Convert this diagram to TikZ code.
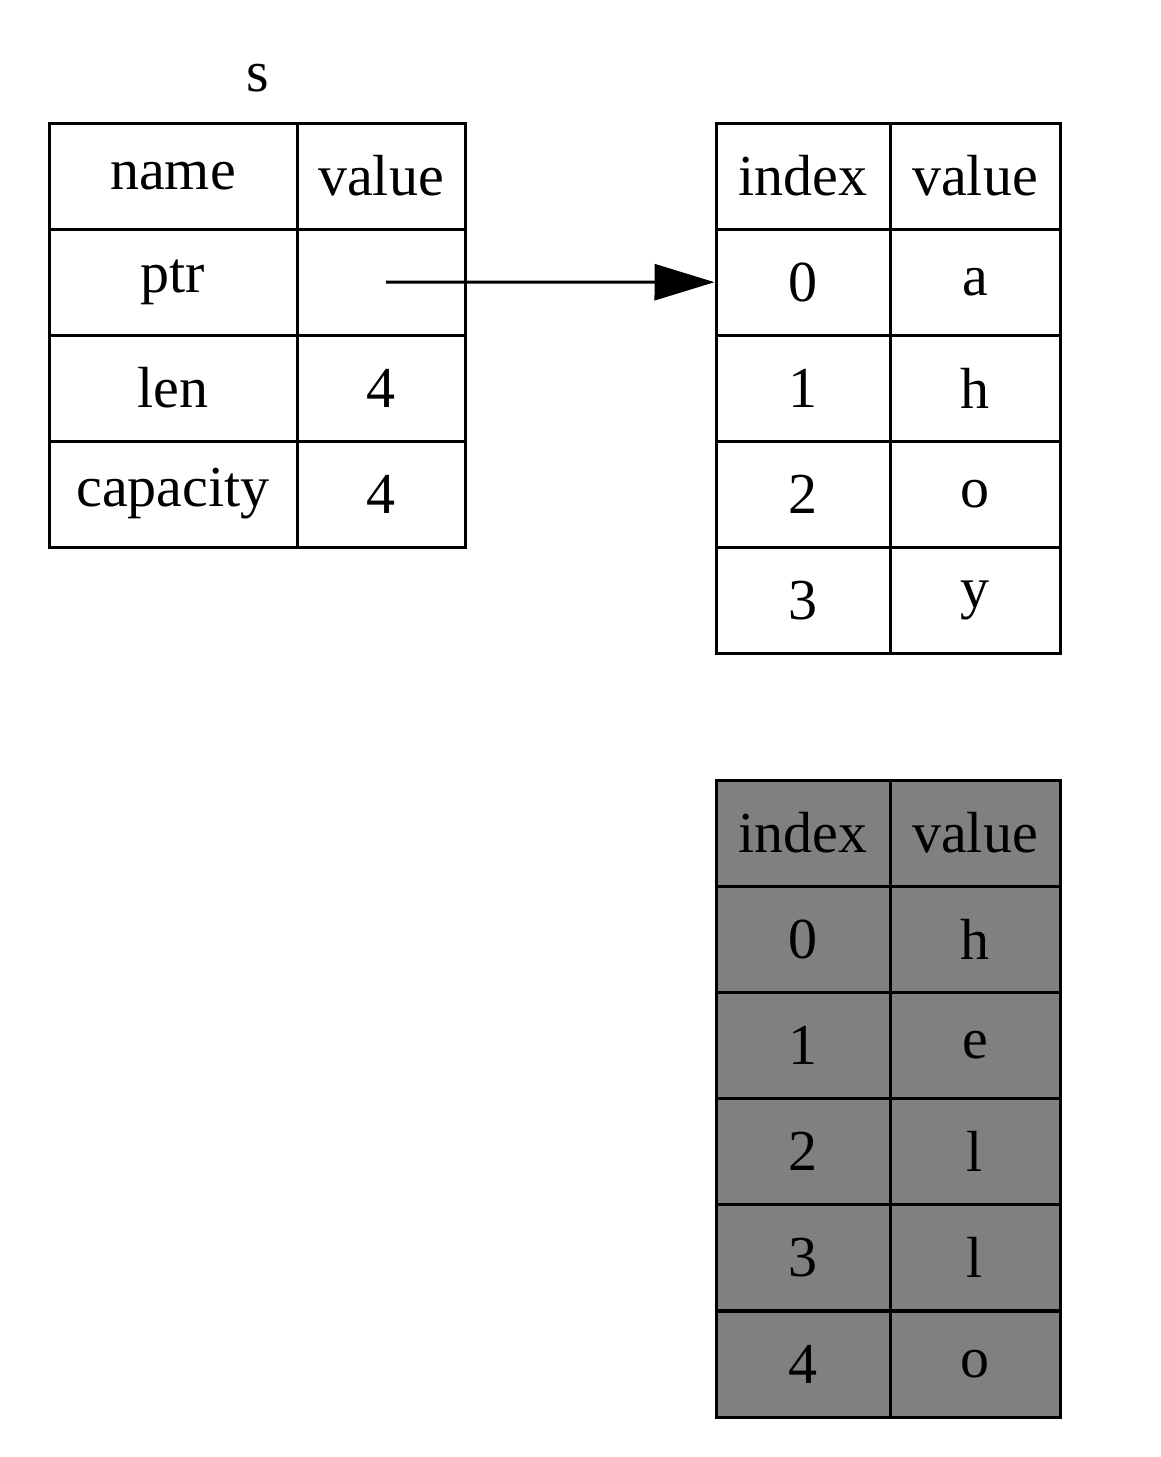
\documentclass[tikz,border=0pt]{standalone}
\usepackage{fontspec}
\setmainfont{Liberation Serif}
\usetikzlibrary{arrows.meta}
\begin{document}
\begin{tikzpicture}[x=1pt,y=-1pt,
  cell/.style={draw=black,line width=3pt,inner sep=0pt,font=\fontsize{58}{58}\selectfont,anchor=center},
  grey/.style={cell,fill={rgb,255:red,128;green,128;blue,128}}]
\useasboundingbox (0,0) rectangle (1161,1457);
\node[font=\fontsize{58}{58}\selectfont] (s) at (258,78) {s};
% table s
\def\rowsS{{"name","value"},{"ptr",""},{"len","4"},{"capacity","4"}}
\foreach \a/\b [count=\i from 0] in {name/value,ptr/{},len/4,capacity/4}{
  \pgfmathsetmacro\yc{176+106*\i}
  \node[cell,minimum width=248pt,minimum height=106pt] (sa\i) at (173,\yc) {\a};
  \node[cell,minimum width=168pt,minimum height=106pt] (sb\i) at (381,\yc) {\b};
}
% table heap
\foreach \a/\b [count=\i from 0] in {index/value,0/a,1/h,2/o,3/y}{
  \pgfmathsetmacro\yc{176+106.2*\i}
  \node[cell,minimum width=174pt,minimum height=106pt] (ha\i) at (803,\yc) {\a};
  \node[cell,minimum width=170pt,minimum height=106pt] (hb\i) at (975,\yc) {\b};
}
% grey table
\foreach \a/\b [count=\i from 0] in {index/value,0/h,1/e,2/l,3/l,4/o}{
  \pgfmathsetmacro\yc{833+106.2*\i}
  \node[grey,minimum width=174pt,minimum height=106pt] (ga\i) at (803,\yc) {\a};
  \node[grey,minimum width=170pt,minimum height=106pt] (gb\i) at (975,\yc) {\b};
}
\coordinate (st) at (386,282);
\draw[line width=3pt,-{Triangle[length=60pt,width=36pt]}] (st) -- (ha1.west);
\end{tikzpicture}
\end{document}
